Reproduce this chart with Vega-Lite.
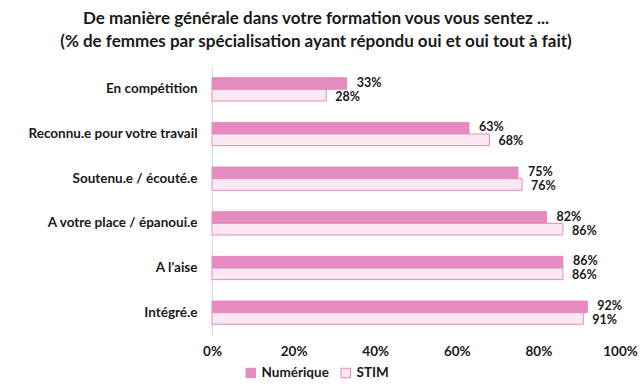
{
  "$schema": "https://vega.github.io/schema/vega-lite/v6.json",
  "autosize": {"type": "none"},
  "width": 408,
  "height": 268,
  "padding": {"left": 212, "top": 67, "right": 24, "bottom": 50},
  "background": "white",
  "config": {"view": {"stroke": null}, "font": "Lato"},
  "title": {
    "text": ["De manière générale dans votre formation vous vous sentez ...", "(% de femmes par spécialisation ayant répondu oui et oui tout à fait)"],
    "anchor": "middle",
    "frame": "group",
    "dx": -100,
    "offset": 16,
    "fontSize": 17,
    "fontWeight": "bold",
    "color": "#1a1a1a",
    "lineHeight": 23,
    "font": "Lato"
  },
  "data": {
    "values": [
      {"cat": "En compétition", "serie": "Numérique", "v": 0.33},
      {"cat": "En compétition", "serie": "STIM", "v": 0.28},
      {"cat": "Reconnu.e pour votre travail", "serie": "Numérique", "v": 0.63},
      {"cat": "Reconnu.e pour votre travail", "serie": "STIM", "v": 0.68},
      {"cat": "Soutenu.e / écouté.e", "serie": "Numérique", "v": 0.75},
      {"cat": "Soutenu.e / écouté.e", "serie": "STIM", "v": 0.76},
      {"cat": "A votre place / épanoui.e", "serie": "Numérique", "v": 0.82},
      {"cat": "A votre place / épanoui.e", "serie": "STIM", "v": 0.86},
      {"cat": "A l'aise", "serie": "Numérique", "v": 0.86},
      {"cat": "A l'aise", "serie": "STIM", "v": 0.86},
      {"cat": "Intégré.e", "serie": "Numérique", "v": 0.92},
      {"cat": "Intégré.e", "serie": "STIM", "v": 0.91}
    ]
  },
  "encoding": {
    "y": {
      "field": "cat", "type": "nominal", "sort": null, "title": null,
      "scale": {"paddingInner": 0.48, "paddingOuter": 0.24},
      "axis": {"ticks": false, "labelPadding": 15, "labelFontSize": 13.5, "labelFontWeight": "bold", "labelColor": "#1a1a1a", "domainColor": "#d9d9d9", "labelLimit": 300}
    },
    "yOffset": {"field": "serie", "type": "nominal", "sort": ["Numérique", "STIM"]},
    "x": {
      "field": "v", "type": "quantitative", "title": null,
      "scale": {"domain": [0, 1]},
      "axis": {"values": [0, 0.2, 0.4, 0.6, 0.8, 1], "format": ".0%", "grid": false, "ticks": false, "domain": false, "labelPadding": 9, "labelFontSize": 13.5, "labelFontWeight": "bold", "labelColor": "#1a1a1a", "labelFlush": false}
    }
  },
  "layer": [
    {
      "mark": {"type": "bar", "strokeWidth": 1},
      "encoding": {
        "fill": {
          "field": "serie", "type": "nominal", "title": null,
          "scale": {"domain": ["Numérique", "STIM"], "range": ["#E48BC0", "#FCE8F3"]},
          "legend": {"orient": "none", "direction": "horizontal", "legendX": 32, "legendY": 299, "symbolType": "square", "symbolSize": 90, "labelFontSize": 13.5, "labelFontWeight": "bold", "labelColor": "#1a1a1a", "columnPadding": 10, "symbolStrokeWidth": 1}
        },
        "stroke": {
          "field": "serie", "type": "nominal", "title": null,
          "scale": {"domain": ["Numérique", "STIM"], "range": ["#E48BC0", "#E48BC0"]}
        }
      }
    },
    {
      "transform": [{"filter": "datum.serie === 'Numérique'"}],
      "mark": {"type": "text", "align": "left", "baseline": "middle", "dx": 10, "dy": -1, "fontSize": 12.5, "fontWeight": "bold", "color": "#1a1a1a"},
      "encoding": {
        "text": {"field": "v", "type": "quantitative", "format": ".0%"}
      }
    },
    {
      "transform": [{"filter": "datum.serie === 'STIM'"}],
      "mark": {"type": "text", "align": "left", "baseline": "middle", "dx": 9, "dy": 1.5, "fontSize": 12.5, "fontWeight": "bold", "color": "#1a1a1a"},
      "encoding": {
        "text": {"field": "v", "type": "quantitative", "format": ".0%"}
      }
    }
  ]
}
